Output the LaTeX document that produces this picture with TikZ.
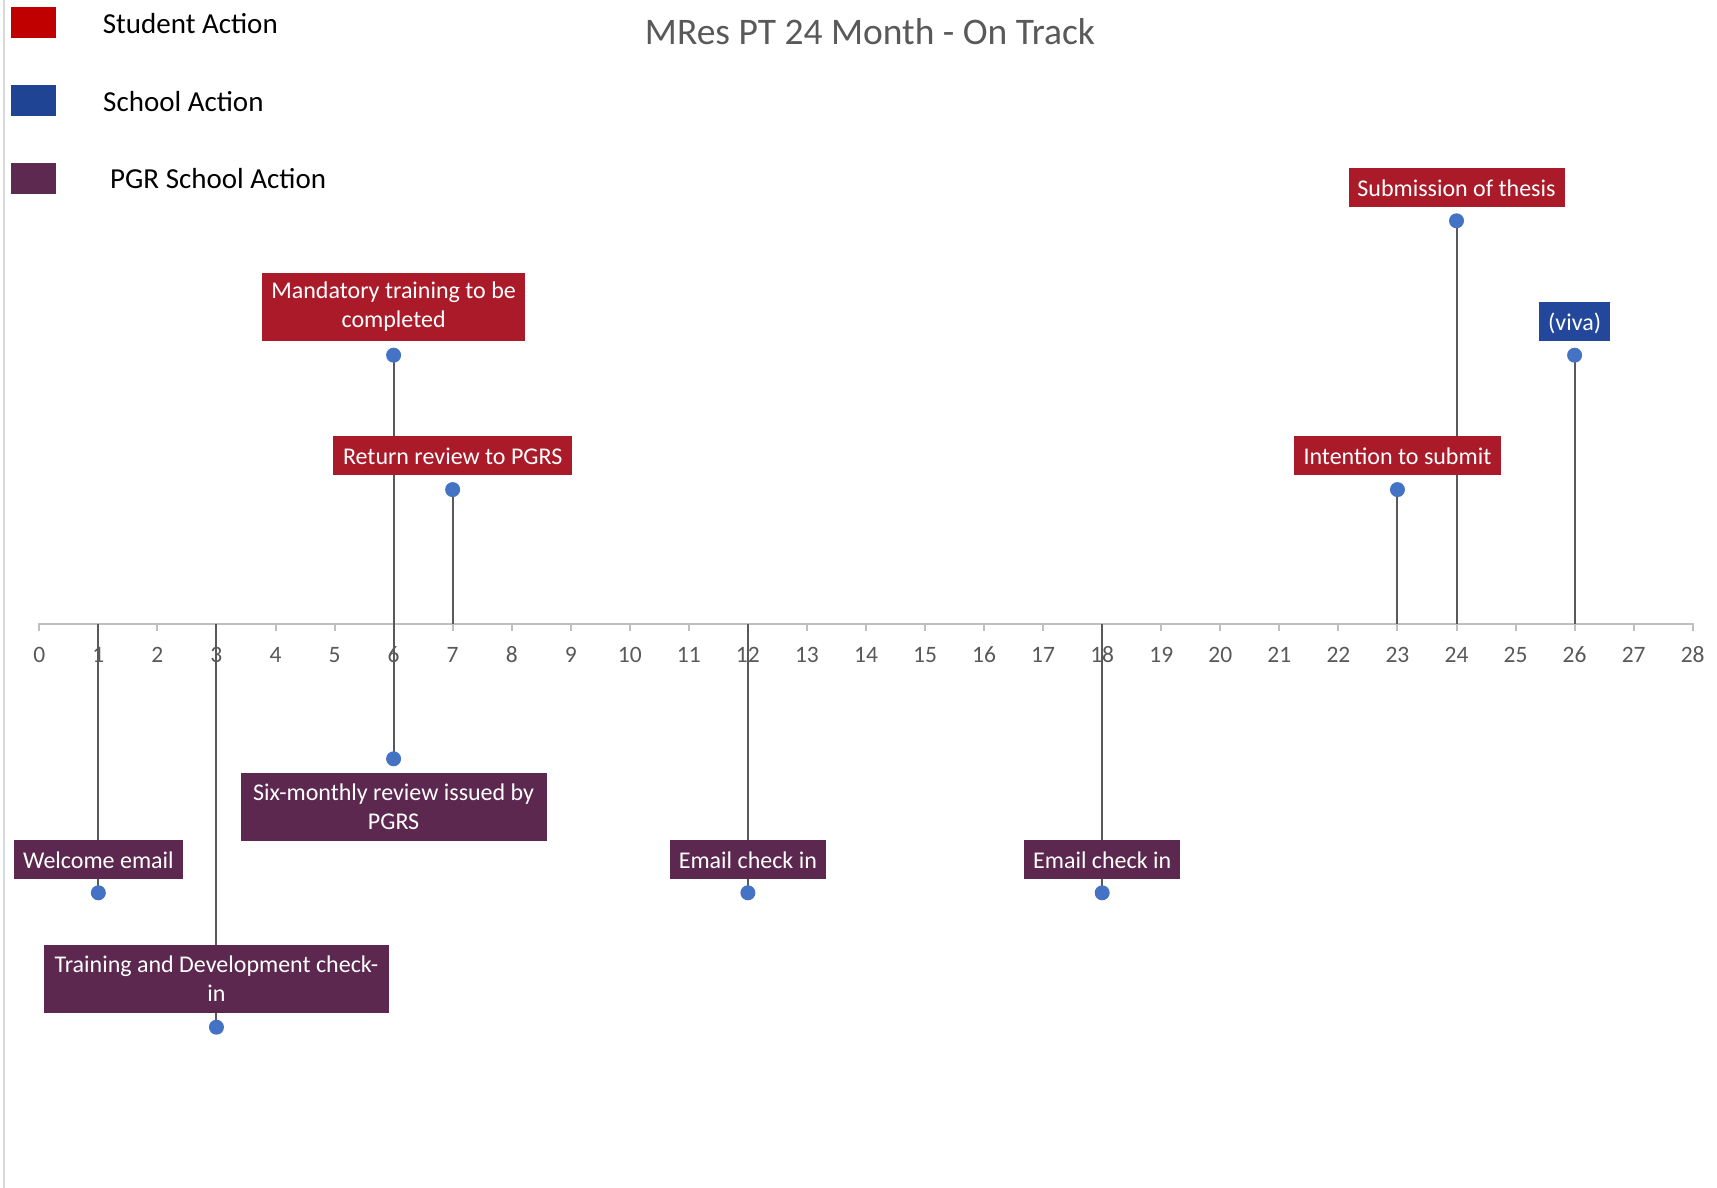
\documentclass[tikz,border=0pt]{standalone}
\usepackage{fontspec}
\setmainfont{Carlito}
\definecolor{studentred}{HTML}{AB1A28}
\definecolor{schoolblue}{HTML}{23479A}
\definecolor{pgrpurple}{HTML}{5C284F}
\definecolor{legred}{HTML}{C00000}
\definecolor{legblue}{HTML}{1F4494}
\definecolor{legpurple}{HTML}{5D2950}
\definecolor{dotblue}{HTML}{4472C4}
\definecolor{stemgray}{HTML}{595959}
\definecolor{axisgray}{HTML}{BFBFBF}
\definecolor{bordergray}{HTML}{D9D9D9}
\definecolor{labelgray}{HTML}{595959}
\begin{document}
\begin{tikzpicture}[x=1pt,y=-1pt,
  evbox/.style={rectangle, inner sep=0pt, text=white, align=center,
    font=\fontsize{24}{29}\selectfont},
  oneline/.style={text height=18pt, text depth=0pt, minimum height=38.7pt},
  twoline/.style={minimum height=68pt},
  student/.style={evbox, fill=studentred},
  school/.style={evbox, fill=schoolblue},
  pgr/.style={evbox, fill=pgrpurple},
  evdot/.style={circle, fill=dotblue, inner sep=0pt, minimum size=15pt},
  stem/.style={draw=stemgray, line width=2pt},
  axisline/.style={draw=axisgray, line width=2pt},
  ticklabel/.style={text=labelgray, font=\fontsize{23.5}{28}\selectfont, inner sep=0pt},
  legsq/.style={rectangle, inner sep=0pt, minimum width=45.3pt, minimum height=31pt},
  legtext/.style={anchor=base west, inner sep=0pt, text=black, font=\fontsize{29}{34}\selectfont}
]
\useasboundingbox (0,0) rectangle (1717,1188);
\fill[white] (0,0) rectangle (1717,1188);
% left border
\draw[draw=bordergray, line width=2pt] (4,0) -- (4,1188);

% title
\node[anchor=base, inner sep=0pt, text=labelgray, font=\fontsize{37.5}{44}\selectfont] (title) at (870,44.5) {MRes PT 24 Month - On Track};

% legend
\node[legsq, fill=legred] (lsq1) at (33.35,22.8) {};
\node[legsq, fill=legblue] (lsq2) at (33.35,100.7) {};
\node[legsq, fill=legpurple] (lsq3) at (33.35,178.5) {};
\node[legtext] (lt1) at (102.7,33.5) {Student Action};
\node[legtext] (lt2) at (103,111.5) {School Action};
\node[legtext] (lt3) at (110,189) {PGR School Action};

% axis
\foreach \m in {0,...,28} {
  \coordinate (a\m) at ({39.3+59.05*\m},624);
  \coordinate (t\m) at ({39.3+59.05*\m},631);
  \draw[axisline] (a\m) -- (t\m);
  \node[ticklabel] (lab\m) at ({39.3+59.05*\m},655) {\m};
}
\draw[axisline, line cap=rect] (a0) -- (a28);

% event point positions
\foreach \d/\m/\y in {1/1/892.8,3/3/1027.2,6u/6/355.2,6d/6/758.8,7/7/489.6,12/12/892.8,18/18/892.8,23/23/489.6,24/24/220.8,26/26/355.2} {
  \coordinate (p\d) at ({39.3+59.05*\m},\y);
}

% stems
\foreach \s/\d in {1/1,3/3,6/6u,6/6d,7/7,12/12,18/18,23/23,24/24,26/26} {
  \draw[stem] (a\s) -- (p\d);
}

% boxes
\node[student, twoline, minimum width=263.4pt, anchor=south] (b6u) at ({39.3+59.05*6},341) {Mandatory training to be\\completed};
\node[student, oneline, minimum width=238.6pt, anchor=south] (b7) at ({39.3+59.05*7},475.3) {Return review to PGRS};
\node[pgr, twoline, minimum width=306pt, anchor=north] (b6d) at ({39.3+59.05*6},772.3) {Six-monthly review issued by\\PGRS};
\node[pgr, oneline, minimum width=169.7pt, anchor=south] (b1) at ({39.3+59.05*1},878.8) {Welcome email};
\node[pgr, twoline, minimum width=344.7pt, anchor=south] (b3) at ({39.3+59.05*3},1013) {Training and Development check-\\in};
\node[pgr, oneline, minimum width=156pt, anchor=south] (b12) at ({39.3+59.05*12},878.8) {Email check in};
\node[pgr, oneline, minimum width=156pt, anchor=south] (b18) at ({39.3+59.05*18},878.8) {Email check in};
\node[student, oneline, minimum width=206.7pt, anchor=south] (b23) at ({39.3+59.05*23},475.3) {Intention to submit};
\node[student, oneline, minimum width=216pt, anchor=south] (b24) at ({39.3+59.05*24},206.7) {Submission of thesis};
\node[school, oneline, minimum width=71.4pt, anchor=south] (b26) at ({39.3+59.05*26},341) {(viva)};

% dots
\foreach \d in {1,3,6u,6d,7,12,18,23,24,26} {
  \node[evdot] (d\d) at (p\d) {};
}
\end{tikzpicture}
\end{document}
